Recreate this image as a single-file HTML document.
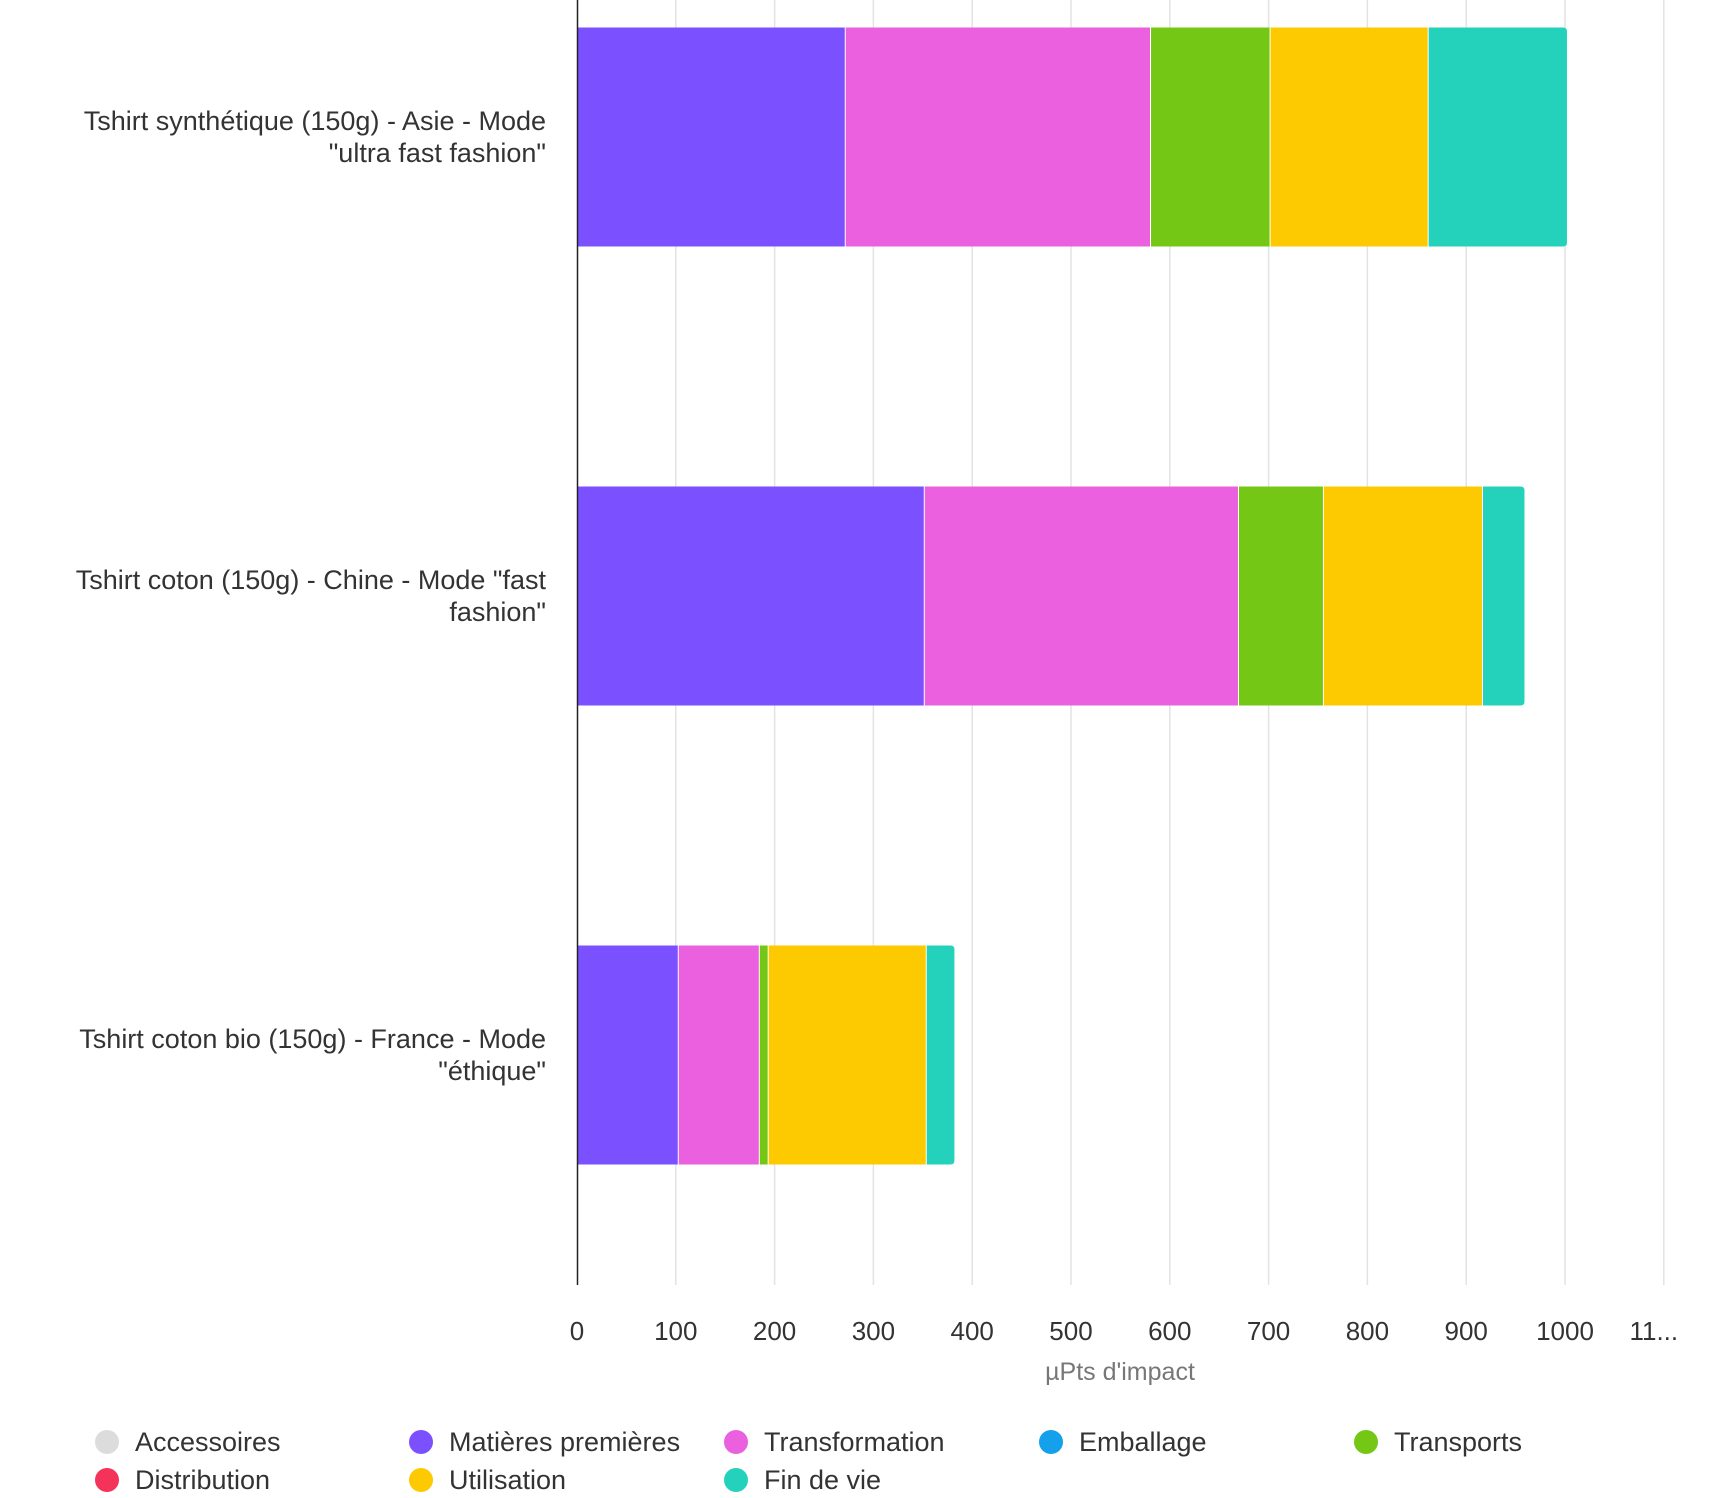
<!DOCTYPE html>
<html><head><meta charset="utf-8"><style>
html,body{margin:0;padding:0;background:#fff;width:1712px;height:1498px;overflow:hidden}
svg{display:block;font-family:"Liberation Sans",sans-serif}
</style></head><body>
<svg id="chart" width="1712" height="1498" viewBox="0 0 1712 1498" xmlns="http://www.w3.org/2000/svg">
<g id="grid"></g>
<g id="bars"></g>
<line x1="577.5" y1="0" x2="577.5" y2="1285" stroke="#222" stroke-width="1.5"/>
<g id="ylabels"></g>
<g id="xticks"></g>
<text x="1120" y="1380" text-anchor="middle" font-size="25" fill="#777">µPts d'impact</text>
<g id="legend"></g>
</svg>
<script>
const categories = [
  ['Tshirt synthétique (150g) - Asie - Mode', '"ultra fast fashion"'],
  ['Tshirt coton (150g) - Chine - Mode "fast', 'fashion"'],
  ['Tshirt coton bio (150g) - France - Mode', '"éthique"']
];
const seriesNames = ['Accessoires','Matières premières','Transformation','Emballage','Transports','Distribution','Utilisation','Fin de vie'];
const seriesColors = ['#dcdcdc','#7b50ff','#ea60de','#14a0ea','#74c815','#f5325a','#fdc900','#24d2bc'];
const accessoires = [0,0,0];
const matieres = [272,352,103];
const transformation = [309,318,82];
const emballage = [0,0,0];
const transports = [121,86,9];
const distribution = [0,0,0];
const utilisation = [160,161,160];
const finDeVie = [140,42,28];
const tickValues = [0,100,200,300,400,500,600,700,800,900,1000,1100];
const tickLabels = ['0','100','200','300','400','500','600','700','800','900','1000','11...'];

const NS='http://www.w3.org/2000/svg';
const X0=577, PX=0.988;
const xs=v=>X0+v*PX;
const ys=i=>27.5+i*459; const BH=219;
function mk(tag,attrs,parent){const e=document.createElementNS(NS,tag);for(const k in attrs)e.setAttribute(k,attrs[k]);parent.appendChild(e);return e;}
const grid=document.getElementById('grid');
tickValues.forEach((v,i)=>{
  if(v===0) return;
  const l=mk('line',{x1:xs(v),x2:xs(v),y1:0,y2:1285,stroke:'#e3e3e3','stroke-width':1.5},grid);
  
  
});
const xt=document.getElementById('xticks');
tickValues.forEach((v,i)=>{
  const t=mk('text',{x:i===11?xs(v)-10:xs(v),y:1340,'text-anchor':'middle','font-size':26,fill:'#333'},xt);
  t.textContent=tickLabels[i];
  
  
});
const series=[accessoires,matieres,transformation,emballage,transports,distribution,utilisation,finDeVie];
const bars=document.getElementById('bars');
categories.forEach((c,ci)=>{
  let acc=0;
  let last=-1;series.forEach((s,si)=>{if(s[ci]>0)last=si;});
  series.forEach((s,si)=>{
    const v=s[ci]; if(v<=0) return;
    const x=xs(acc), w=v*PX;
    let r;
    if(si===last){
      const y=ys(ci), x2=x+w, rr=4;
      r=mk('path',{d:`M${x},${y}H${x2-rr}Q${x2},${y} ${x2},${y+rr}V${y+BH-rr}Q${x2},${y+BH} ${x2-rr},${y+BH}H${x}Z`,fill:seriesColors[si]},bars);
    } else {
      r=mk('rect',{x:x,y:ys(ci),width:w,height:BH,fill:seriesColors[si]},bars);
    }
    
    
    acc+=v;
    if(si!==last){
      const sep=mk('line',{x1:xs(acc),x2:xs(acc),y1:ys(ci),y2:ys(ci)+BH,stroke:'#fff','stroke-width':2},bars);
      
      
    }
  });
  const yl=document.getElementById('ylabels');
  const cy=ys(ci)+BH/2;
  c.forEach((line,li)=>{
    const t=mk('text',{x:546,y:cy-7+li*32,'text-anchor':'end','font-size':27,fill:'#333'},yl);
    t.textContent=line;
    
    
  });
});
const lg=document.getElementById('legend');
const colX=[107,421,736,1051,1366];
seriesNames.forEach((n,i)=>{
  const cx=colX[i%5], cy=i<5?1442:1480;
  const g=mk('g',{},lg);
  
  
  mk('circle',{cx:cx,cy:cy,r:12,fill:seriesColors[i]},g);
  const t=mk('text',{x:cx+28,y:cy+9,'font-size':27,fill:'#333'},g);
  t.textContent=n;
});
</script>
</body></html>
